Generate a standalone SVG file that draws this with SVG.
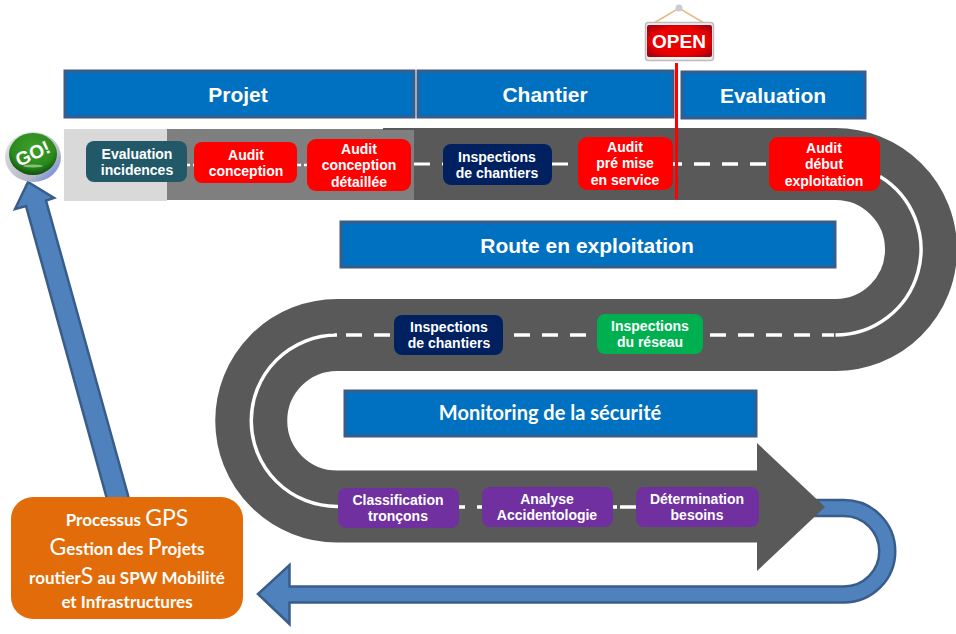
<svg xmlns="http://www.w3.org/2000/svg" width="956" height="634" viewBox="0 0 956 634">
<defs>
<radialGradient id="gGo" cx="50%" cy="35%" r="65%"><stop offset="0" stop-color="#3fa02a"/><stop offset="0.7" stop-color="#2a8a1c"/><stop offset="1" stop-color="#124f10"/></radialGradient>
<linearGradient id="gSilver" x1="0" y1="0" x2="1" y2="1"><stop offset="0" stop-color="#e8e8e8"/><stop offset="0.7" stop-color="#b4b8c4"/><stop offset="0.85" stop-color="#7f93dc"/><stop offset="1" stop-color="#c8c8c8"/></linearGradient>
<radialGradient id="gOpen" cx="50%" cy="50%" r="62%"><stop offset="0" stop-color="#f00000"/><stop offset="0.7" stop-color="#e80000"/><stop offset="1" stop-color="#a80010"/></radialGradient>
</defs>
<style>
text{font-family:"Liberation Sans",Arial,sans-serif;font-weight:bold;fill:#fff;text-anchor:middle}
.b{fill:#0070c0;stroke:#385d8a;stroke-width:3}
.h{font-size:21px}
.n{font-size:14px}
.c{font-family:Lato,"Open Sans",sans-serif;font-size:17px}
.big{font-size:23px;font-weight:normal}
.arrow{fill:#4f81bd;stroke:#385d8a;stroke-width:2.5;stroke-linejoin:miter}
.w{fill:none;stroke:#fff;stroke-width:3.5}
.d{stroke-dasharray:16 12}
</style>
<rect width="956" height="634" fill="#fff"/>
<g id="road">
<rect x="64" y="129" width="103" height="72" fill="#d9d9d9"/>
<rect x="167" y="129" width="247" height="71" fill="#7f7f7f"/>
<rect x="383" y="128" width="31" height="2" fill="#595959"/>
<path d="M414 164H835.5A85.5 85.5 0 0 1 835.5 335H337A85.75 85.75 0 0 0 337 506.5H757" fill="none" stroke="#595959" stroke-width="72"/>
</g>
<g id="connectors">
<path class="w" style="stroke-width:2.5" stroke-dasharray="4 3" d="M186 165H194M297 165H308"/>
<path class="w d" style="stroke-width:3" d="M414 164H443M552 164H578"/>
<path class="w d" d="M666 164H766"/>
<path class="w" d="M880 176.5A85.5 85.5 0 0 1 835.5 335"/>
<path class="w d" d="M710 335H834"/>
<path class="w d" d="M514 335H586"/>
<path class="w d" d="M346 335H390"/>
<path class="w" d="M334 335H337A85.75 85.75 0 0 0 337 506.5H338"/>
<path class="w" d="M459 507H465M477 507H482M612 507H617M620 507H636M758 507H767"/>
<path class="arrow" d="M815 500H844A51.25 51.25 0 0 1 844 602.5H289.5V624L258 594L289.5 565V586.5H844A35.25 35.25 0 0 0 844 516H815Z"/>
<path class="arrow" d="M129 499L107 499L26 206L15 209L28 182L54 198L46 200.5Z"/>
<path id="road-head" d="M757 443L825 507L757 571Z" fill="#595959"/>
<path d="M676.5 63V199" stroke="#f00" stroke-width="3" fill="none"/>
</g>
<g id="go">
<ellipse cx="33" cy="157" rx="28" ry="25" fill="url(#gSilver)"/>
<ellipse cx="33" cy="154" rx="24" ry="21" fill="url(#gGo)"/>
<ellipse cx="33" cy="166" rx="10" ry="1.5" fill="#9fd08f" opacity=".8"/>
<text x="33" y="160" font-size="19" transform="rotate(-25 33 154)">GO!</text>
</g>
<g id="open">
<path d="M654 23L679 8L704 23" fill="none" stroke="#e5b982" stroke-width="1.5"/>
<circle cx="679" cy="8" r="3.5" fill="#c9cbd0"/>
<rect x="645.5" y="22.5" width="68" height="38" rx="3" fill="#efefef" stroke="#bdbdbd" stroke-width="1.5"/>
<rect x="647" y="25" width="65" height="32" rx="2" fill="url(#gOpen)"/>
<text x="679" y="48" font-size="19">OPEN</text>
</g>
<g id="h-projet"><rect class="b" x="65" y="71" width="349" height="46"/><text class="h" x="238" y="102">Projet</text></g>
<g id="h-chantier"><rect class="b" x="418" y="71" width="255" height="46"/><text class="h" x="545" y="102">Chantier</text></g>
<g id="h-evaluation"><rect class="b" x="682" y="72" width="183" height="46"/><text class="h" x="773" y="103">Evaluation</text></g>
<g id="h-route"><rect class="b" x="341" y="222" width="494" height="45"/><text class="h" x="587" y="253">Route en exploitation</text></g>
<g id="h-monitoring"><rect class="b" x="345" y="391" width="411" height="45"/><text x="550" y="420" font-size="20" style="font-family:Lato,'Open Sans',sans-serif">Monitoring de la sécurité</text></g>
<g id="n1"><rect x="86" y="141" width="101" height="41" rx="8" fill="#215968"/><text class="n" x="137" y="159">Evaluation</text><text class="n" x="137" y="175">incidences</text></g>
<g id="n2"><rect x="194" y="142" width="103" height="41" rx="8" fill="#f00"/><text class="n" x="246" y="160">Audit</text><text class="n" x="246" y="176">conception</text></g>
<g id="n3"><rect x="307" y="139" width="104" height="52" rx="9" fill="#f00"/><text class="n" x="359" y="154">Audit</text><text class="n" x="359" y="170">conception</text><text class="n" x="359" y="187">détaillée</text></g>
<g id="n4"><rect x="443" y="144" width="109" height="41" rx="8" fill="#002060"/><text class="n" x="497" y="162">Inspections</text><text class="n" x="497" y="178">de chantiers</text></g>
<g id="n5"><rect x="578" y="137" width="95" height="53" rx="9" fill="#f00"/><text class="n" x="625" y="152">Audit</text><text class="n" x="625" y="168">pré mise</text><text class="n" x="625" y="185">en service</text></g>
<g id="n6"><rect x="769" y="137" width="111" height="54" rx="9" fill="#f00"/><text class="n" x="824" y="153">Audit</text><text class="n" x="824" y="169">début</text><text class="n" x="824" y="186">exploitation</text></g>
<g id="n7"><rect x="394" y="315" width="109" height="40" rx="8" fill="#002060"/><text class="n" x="449" y="332">Inspections</text><text class="n" x="449" y="348">de chantiers</text></g>
<g id="n8"><rect x="597" y="314" width="106" height="40" rx="8" fill="#00b050"/><text class="n" x="650" y="331">Inspections</text><text class="n" x="650" y="347">du réseau</text></g>
<g id="n9"><rect x="338" y="488" width="121" height="40" rx="8" fill="#7030a0"/><text class="n" x="398" y="505">Classification</text><text class="n" x="398" y="521">tronçons</text></g>
<g id="n10"><rect x="482" y="487" width="131" height="40" rx="8" fill="#7030a0"/><text class="n" x="547" y="504">Analyse</text><text class="n" x="547" y="520">Accidentologie</text></g>
<g id="n11"><rect x="636" y="487" width="123" height="40" rx="8" fill="#7030a0"/><text class="n" x="697" y="504">Détermination</text><text class="n" x="697" y="520">besoins</text></g>
<g id="gps"><rect x="11" y="497" width="232" height="122" rx="22" fill="#e36c0a"/>
<text class="c" x="127" y="526">Processus <tspan class="big">GPS</tspan></text>
<text class="c" x="127" y="555"><tspan class="big">G</tspan>estion des <tspan class="big">P</tspan>rojets</text>
<text class="c" x="127" y="584">routier<tspan class="big">S</tspan> au SPW Mobilité</text>
<text class="c" x="127" y="608">et Infrastructures</text></g>
</svg>
